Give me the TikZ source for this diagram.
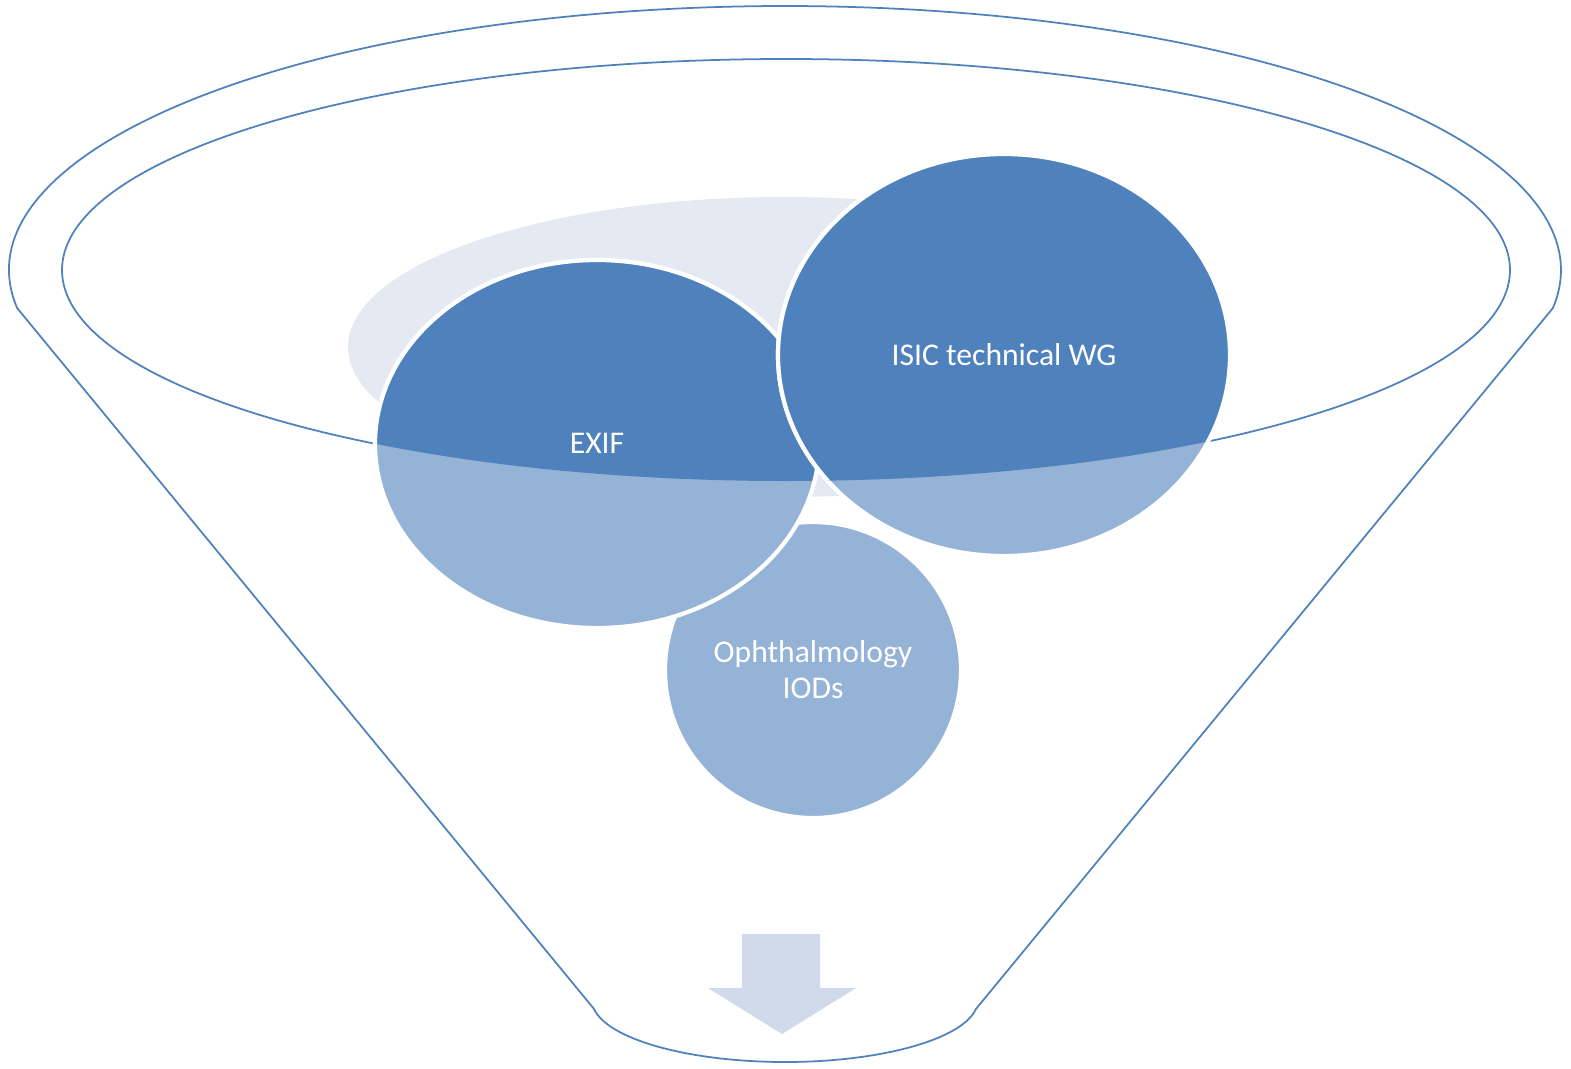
\documentclass[tikz,border=0pt]{standalone}
\usepackage{fontspec}
\setmainfont{Carlito}
\usepackage{tikz}
\usepackage{xcolor}
\usetikzlibrary{calc}
\definecolor{funnelblue}{HTML}{4F81BD}
\definecolor{lightblue}{HTML}{95B3D7}
\definecolor{paleblue}{HTML}{E4E9F2}
\definecolor{arrowblue}{HTML}{D0DAEA}

\begin{document}
\begin{tikzpicture}[yscale=-1,
  itemtext/.style={text=white,font=\fontsize{9}{10.2}\selectfont,align=center}]
\useasboundingbox (0,0) rectangle (15.71,10.68);
\coordinate (top) at (7.85,2.70);
\coordinate (bot) at (7.85,10.00);
% funnel outline
\draw[funnelblue,line width=0.5pt] ($(top)+(171.7:7.76 and 2.64)$)
  arc[start angle=171.7,end angle=368.3,x radius=7.76,y radius=2.64]
  -- ($(bot)+(8.3:1.93 and 0.62)$)
  arc[start angle=8.3,end angle=171.7,x radius=1.93,y radius=0.62] -- cycle;
\draw[funnelblue,line width=0.5pt] (7.86,2.70) ellipse[x radius=7.24,y radius=2.11];
\fill[paleblue] (7.85,3.47) ellipse[x radius=4.37,y radius=1.50];
% the three items, dark inside the rim
\foreach \cx/\cy/\rx/\ry in {8.13/6.70/1.48/1.48, 5.97/4.44/2.22/1.84, 10.04/3.55/2.26/2.01}{
  \filldraw[fill=lightblue,draw=white,line width=1.2pt] (\cx,\cy) ellipse[x radius=\rx,y radius=\ry];
  \begin{scope}
    \clip (7.86,2.70) ellipse[x radius=7.24,y radius=2.11];
    \filldraw[fill=funnelblue,draw=white,line width=1.2pt] (\cx,\cy) ellipse[x radius=\rx,y radius=\ry];
  \end{scope}
}
\node[itemtext] (exif) at (5.97,4.43) {EXIF};
\node[itemtext] (isic) at (10.04,3.55) {ISIC technical WG};
\node[itemtext] (oph) at (8.13,6.70) {Ophthalmology\\IODs};
% arrow out of the funnel
\fill[arrowblue] (7.42,9.34) -- (8.20,9.34) -- (8.20,9.88) -- (8.56,9.88)
  -- (7.82,10.34) -- (7.08,9.88) -- (7.42,9.88) -- cycle;
\end{tikzpicture}
\end{document}
